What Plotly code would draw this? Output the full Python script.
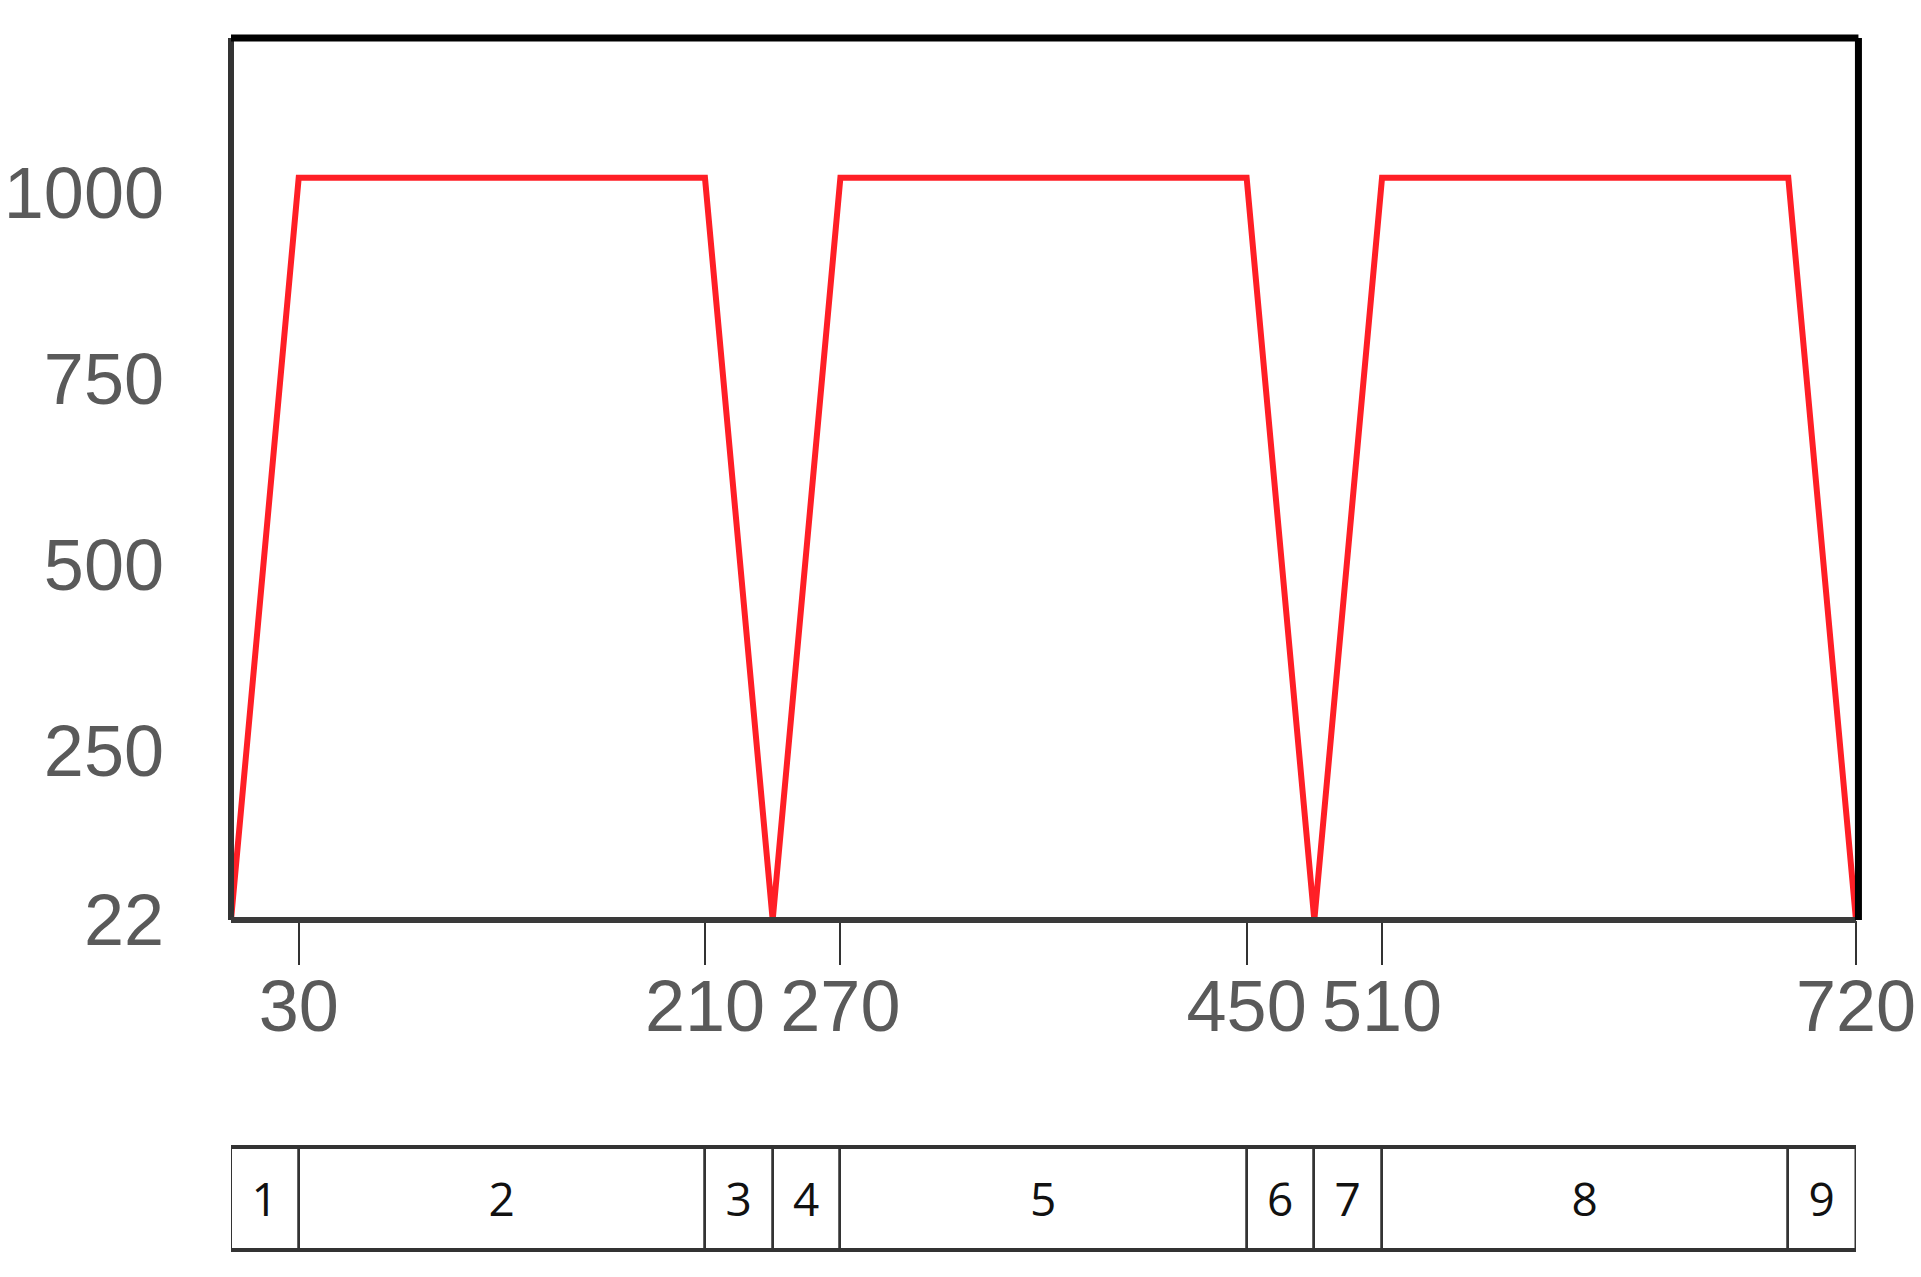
import numpy as np
import plotly.graph_objects as go

# time profile (x) and level (y)
time_points = [0, 30, 210, 240, 270, 450, 480, 510, 690, 720]
levels = [22, 1020, 1020, 22, 1020, 1020, 22, 1020, 1020, 22]

x_ticks = [30, 210, 270, 450, 510, 720]
y_ticks = [22, 250, 500, 750, 1000]

# phase strip below the chart
phase_edges = [0, 30, 210, 240, 270, 450, 480, 510, 690, 720]
phase_labels = ["1", "2", "3", "4", "5", "6", "7", "8", "9"]

W, H = 1921, 1277
M_L, M_R, M_T, M_B = 231, 65, 38, 27
plot_h = H - M_T - M_B
main_bottom = (1250 - 920) / plot_h
strip_top = (1250 - 1147) / plot_h

tick_font = dict(family="Liberation Sans, Arial, sans-serif", size=72, color="#5a5a5a")

fig = go.Figure()

fig.add_trace(go.Scatter(
    x=time_points, y=levels,
    mode="lines",
    line=dict(color="#ff1f26", width=6),
    cliponaxis=False,
    showlegend=False,
    hoverinfo="skip",
    xaxis="x", yaxis="y",
))

edges = np.array(phase_edges)
fig.add_trace(go.Bar(
    y=[0] * len(phase_labels),
    x=np.diff(edges),
    base=edges[:-1],
    orientation="h",
    width=1,
    marker=dict(color="white", line=dict(color="#333333", width=2.5)),
    text=phase_labels,
    textposition="inside",
    insidetextanchor="middle",
    constraintext="none",
    textfont=dict(family="Open Sans, sans-serif", size=46, color="#111111"),
    showlegend=False,
    hoverinfo="skip",
    xaxis="x2", yaxis="y2",
))

fig.update_layout(
    width=W, height=H,
    margin=dict(l=M_L, r=M_R, t=M_T, b=M_B, autoexpand=False),
    plot_bgcolor="white",
    paper_bgcolor="white",
    bargap=0,
    xaxis=dict(
        range=[0, 720], domain=[0, 1], anchor="y", automargin=False,
        tickmode="array", tickvals=x_ticks,
        ticks="outside", ticklen=44, tickwidth=2, tickcolor="#333333",
        tickfont=tick_font, ticklabelstandoff=-20,
        showgrid=False, zeroline=False, showline=False,
    ),
    yaxis=dict(
        range=[22, 1208], domain=[main_bottom, 1], anchor="x", automargin=False,
        tickmode="array", tickvals=y_ticks,
        ticks="", tickfont=tick_font, ticklabelstandoff=66,
        showgrid=False, zeroline=False, showline=False,
    ),
    xaxis2=dict(
        range=[0, 720], domain=[0, 1], anchor="y2", matches="x", automargin=False,
        showticklabels=False, ticks="", showgrid=False, zeroline=False, showline=False,
    ),
    yaxis2=dict(
        range=[-0.5, 0.5], domain=[0, strip_top], anchor="x2", automargin=False,
        showticklabels=False, ticks="", showgrid=False, zeroline=False, showline=False,
    ),
)

# frame round the main chart: heavy top/right, lighter left/bottom
frame = [
    dict(x0=0, x1=0, y0=main_bottom, y1=1, color="#333333", width=6),
    dict(x0=0, x1=1, y0=main_bottom, y1=main_bottom, color="#3a3a3a", width=6),
    dict(x0=0, x1=1.0015, y0=1, y1=1, color="black", width=7),
    dict(x0=1.0015, x1=1.0015, y0=main_bottom, y1=1, color="black", width=7),
]
for f in frame:
    fig.add_shape(type="line", xref="paper", yref="paper",
                  x0=f["x0"], x1=f["x1"], y0=f["y0"], y1=f["y1"],
                  line=dict(color=f["color"], width=f["width"]))

# thicker top and bottom edges of the phase strip
for yy in (0, strip_top):
    fig.add_shape(type="line", xref="paper", yref="paper",
                  x0=0, x1=1, y0=yy, y1=yy,
                  line=dict(color="#333333", width=4))

# drop the default body margin so the figure sits at the window corner
fig.write_html("out.html", config={"displayModeBar": False},
               post_script="document.body.style.margin='0';")
